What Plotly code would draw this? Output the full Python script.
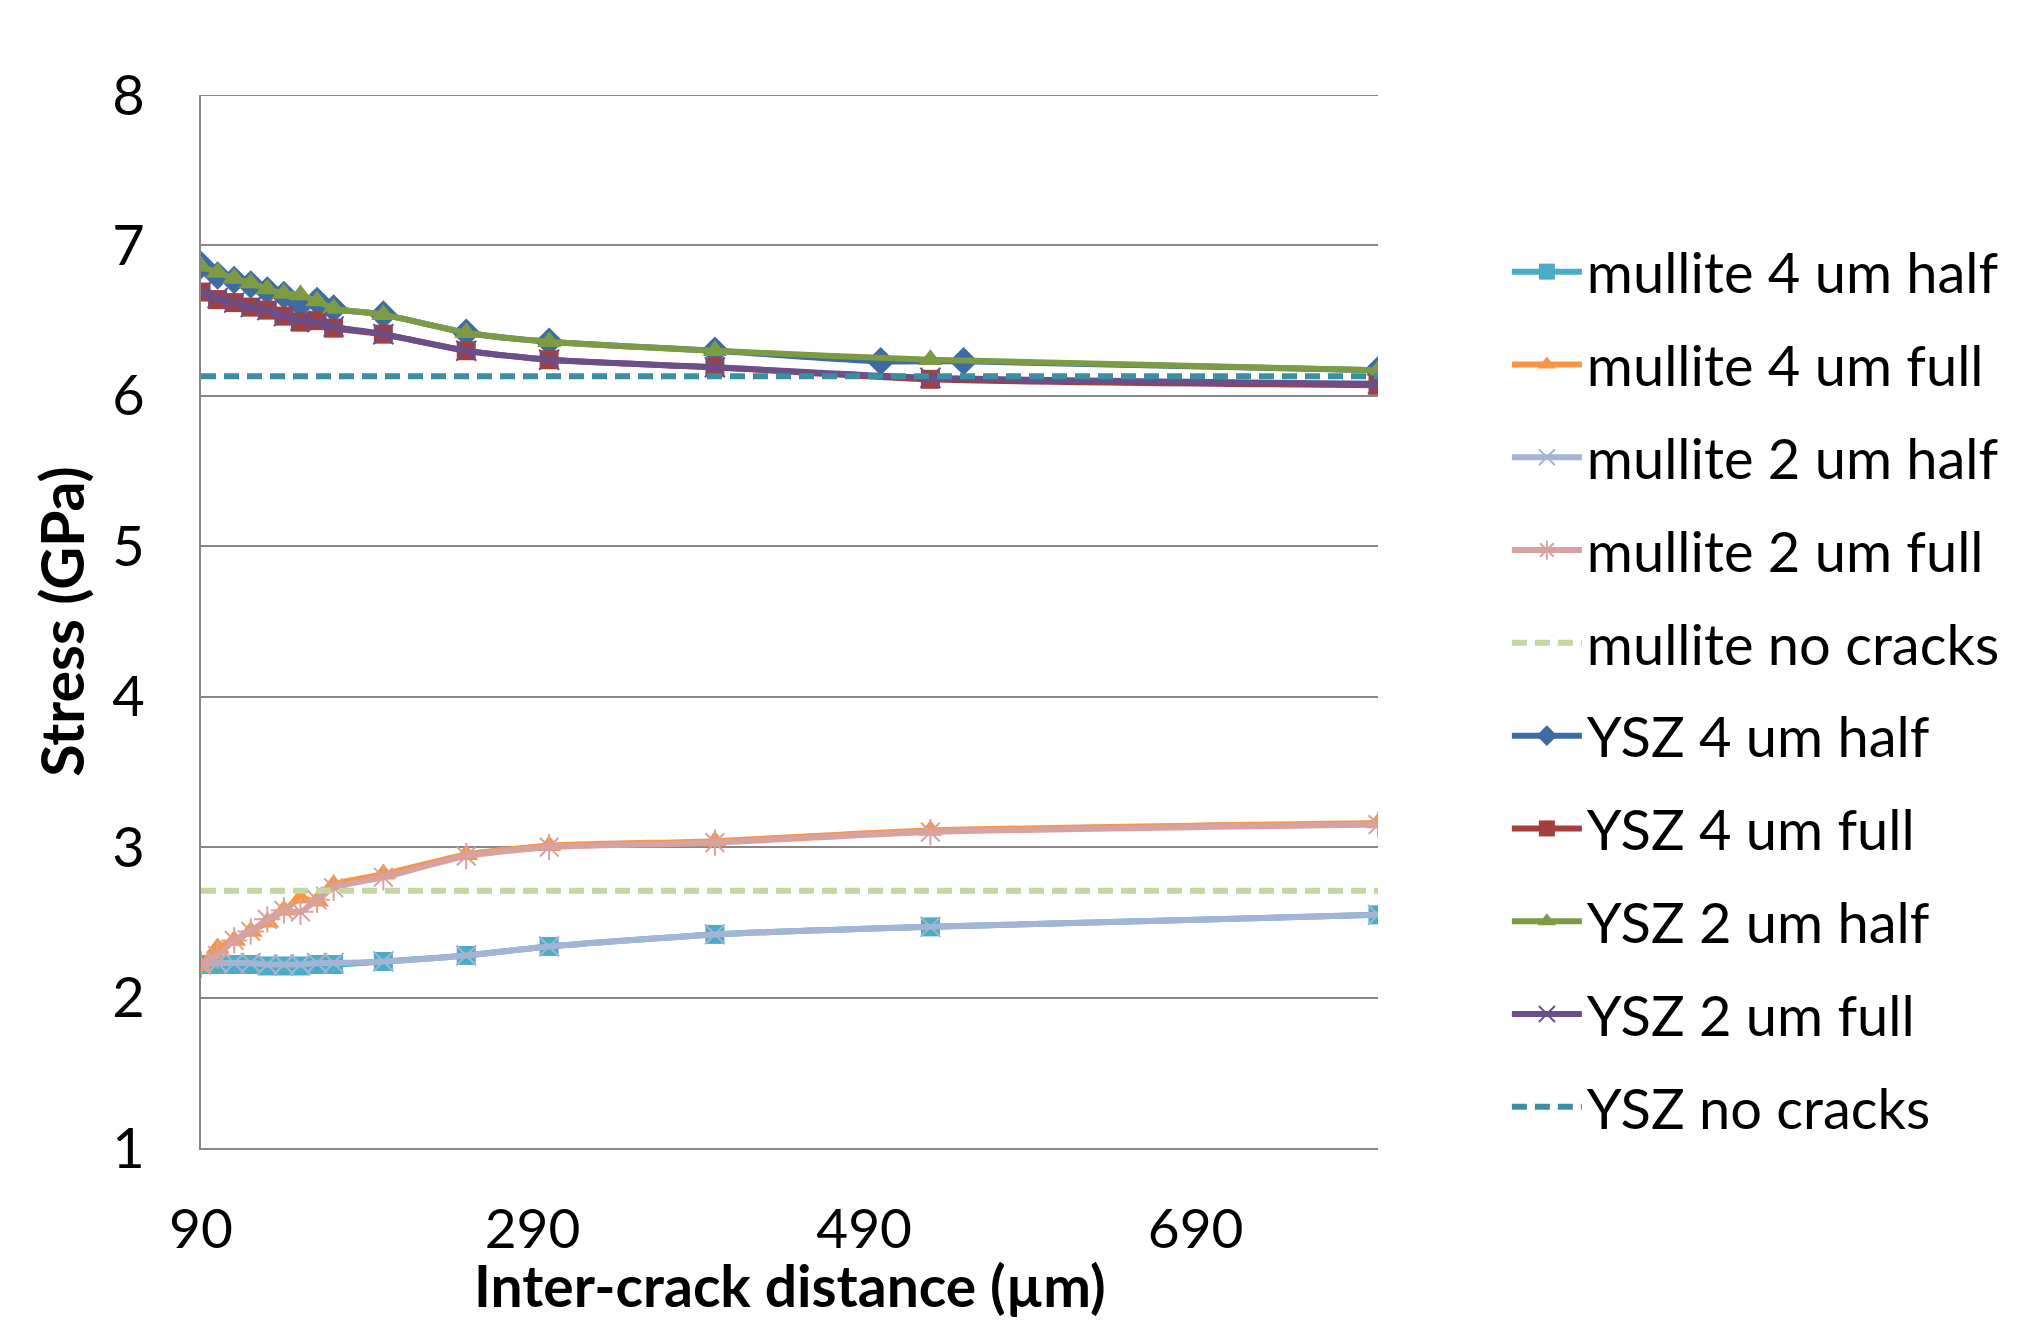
import plotly.graph_objects as go

# ---- data ----
x_main = [90, 100, 110, 120, 130, 140, 150, 160, 170, 200, 250, 300, 400, 530, 800]
x_ysz4half = [90, 100, 110, 120, 130, 140, 150, 160, 170, 200, 250, 300, 400, 500, 550, 800]
x_flat = [90, 800]

mullite_4_half = [2.22, 2.22, 2.22, 2.22, 2.21, 2.21, 2.21, 2.22, 2.22, 2.24, 2.28, 2.34, 2.42, 2.47, 2.55]
mullite_4_full = [2.21, 2.33, 2.38, 2.44, 2.50, 2.58, 2.66, 2.64, 2.75, 2.82, 2.95, 3.01, 3.04, 3.11, 3.16]
mullite_2_half = [2.22, 2.23, 2.23, 2.23, 2.22, 2.22, 2.22, 2.23, 2.23, 2.24, 2.28, 2.34, 2.42, 2.47, 2.55]
mullite_2_full = [2.22, 2.28, 2.38, 2.44, 2.52, 2.58, 2.57, 2.65, 2.73, 2.80, 2.94, 3.00, 3.03, 3.10, 3.15]
mullite_none = [2.71, 2.71]
ysz_4_half = [6.87, 6.80, 6.77, 6.74, 6.70, 6.67, 6.61, 6.63, 6.58, 6.54, 6.42, 6.36, 6.30, 6.23, 6.23, 6.17]
ysz_4_full = [6.69, 6.64, 6.62, 6.59, 6.57, 6.53, 6.49, 6.50, 6.45, 6.41, 6.30, 6.24, 6.19, 6.11, 6.07]
ysz_2_half = [6.86, 6.82, 6.78, 6.75, 6.71, 6.68, 6.67, 6.63, 6.58, 6.54, 6.42, 6.36, 6.30, 6.24, 6.17]
ysz_2_full = [6.69, 6.65, 6.62, 6.59, 6.57, 6.53, 6.50, 6.49, 6.46, 6.41, 6.30, 6.24, 6.19, 6.12, 6.08]
ysz_none = [6.13, 6.13]

x_ticks = [90, 290, 490, 690]
y_ticks = [1, 2, 3, 4, 5, 6, 7, 8]
x_title = "Inter-crack distance (µm)"
y_title = "Stress (GPa)"

FONT = "Lato"
LW = 6
GRID = "#878787"

series = [
    ("mullite 4 um half", x_main, mullite_4_half, "#4BACC6", "square", 19, None),
    ("mullite 4 um full", x_main, mullite_4_full, "#F79646", "triangle-up", 21, None),
    ("mullite 2 um half", x_main, mullite_2_half, "#A3B4D4", "x-thin-open", 20, None),
    ("mullite 2 um full", x_main, mullite_2_full, "#D7A2A1", "asterisk-open", 22, None),
    ("mullite no cracks", x_flat, mullite_none, "#C3D6A3", None, 0, "15px,8px"),
    ("YSZ 4 um half", x_ysz4half, ysz_4_half, "#3E6BA3", "diamond", 22, None),
    ("YSZ 4 um full", x_main, ysz_4_full, "#A3403D", "square", 19, None),
    ("YSZ 2 um half", x_main, ysz_2_half, "#7D9B42", "triangle-up", 21, None),
    ("YSZ 2 um full", x_main, ysz_2_full, "#6A4F8B", "x-thin-open", 20, None),
    ("YSZ no cracks", x_flat, ysz_none, "#3A8FA3", None, 0, "15px,8px"),
]

fig = go.Figure()
for i, (name, xs, ys, col, sym, size, dash) in enumerate(series):
    if sym is None:
        fig.add_trace(go.Scatter(
            x=xs, y=ys, name=name, mode="lines", legendgroup=f"g{i}",
            line=dict(color=col, width=LW, dash=dash),
        ))
    else:
        open_sym = sym.endswith("open")
        fig.add_trace(go.Scatter(
            x=xs, y=ys, name=name, mode="lines+markers", legendgroup=f"g{i}",
            line=dict(color=col, width=LW, shape="spline", smoothing=0.6),
            marker=dict(symbol=sym, size=size, color=col,
                        line=dict(color=col, width=2 if open_sym else 0)),
        ))

# top gridline at the upper range limit
fig.add_shape(type="line", xref="x domain", yref="y", x0=0, x1=1,
              y0=y_ticks[-1], y1=y_ticks[-1], line=dict(color=GRID, width=2), layer="below")

# x-axis title as an annotation
fig.add_annotation(text=f"<b>{x_title}</b>", xref="paper", yref="paper", x=0.5, y=0,
                   xanchor="center", yanchor="middle", yshift=-137, showarrow=False,
                   font=dict(family=FONT, size=57, color="black"))

fig.update_layout(
    width=2024, height=1321,
    margin=dict(l=201, r=646, t=95, b=173, autoexpand=False),
    paper_bgcolor="white", plot_bgcolor="white",
    font=dict(family=FONT, size=56, color="black"),
    showlegend=True,
    legend=dict(
        xref="container", x=0.7445, xanchor="left", y=0.873, yanchor="top",
        font=dict(family=FONT, size=56, color="black"),
        tracegroupgap=17, bgcolor="rgba(0,0,0,0)",
        itemsizing="trace", itemwidth=70,
    ),
    xaxis=dict(
        range=[90, 800], tickvals=x_ticks, ticktext=[str(v) for v in x_ticks],
        showgrid=False, zeroline=False, showline=True, linecolor=GRID, linewidth=2,
        ticks="", ticklabelstandoff=32, automargin=False,
        tickfont=dict(family=FONT, size=55, color="black"),
    ),
    yaxis=dict(
        range=[1, 8], tickvals=y_ticks,
        showgrid=True, gridcolor=GRID, gridwidth=2,
        zeroline=False, showline=True, linecolor=GRID, linewidth=2,
        ticks="", ticklabelstandoff=43, automargin=False,
        tickfont=dict(family=FONT, size=56, color="black"),
        title=dict(text=f"<b>{y_title}</b>", standoff=9,
                   font=dict(family=FONT, size=59, color="black")),
    ),
)

fig.write_html("out.html")
